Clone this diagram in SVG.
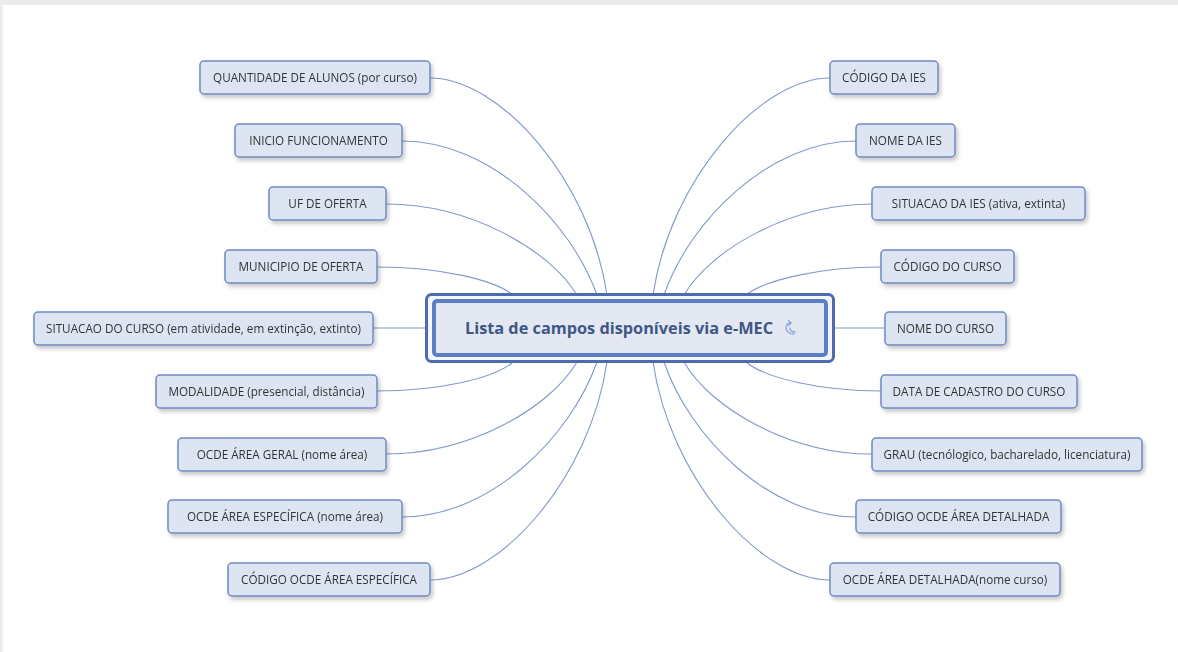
<svg xmlns="http://www.w3.org/2000/svg" width="1178" height="652" viewBox="0 0 1178 652">
  <defs>
    <filter id="sh" x="-10%" y="-30%" width="120%" height="170%">
      <feDropShadow dx="2" dy="3" stdDeviation="2.2" flood-color="#000" flood-opacity="0.22"/>
    </filter>
    <linearGradient id="leftEdge" x1="0" y1="0" x2="1" y2="0">
      <stop offset="0" stop-color="#e6e6e6"/>
      <stop offset="1" stop-color="#ffffff"/>
    </linearGradient>
    <style>
      .node rect { fill: #dde5f3; stroke: #6f89c2; stroke-width: 1.5; }
      .node text { font-family: "Open Sans", "Noto Sans", sans-serif; font-size: 11.7px; fill: #333333; text-anchor: middle; }
      .conn path { fill: none; stroke: #8198cb; stroke-width: 1.1; }
    </style>
  </defs>
  <rect x="0" y="0" width="1178" height="652" fill="#ffffff"/>
  <rect x="0" y="0" width="1178" height="5" fill="#ebebeb"/>
  <rect x="0" y="5" width="4" height="647" fill="url(#leftEdge)"/>

  <g id="connectors" class="conn">
    <path d="M430 78 C500 78 590 180 607 295"/>
    <path d="M402 141 C490 141 570 220 597 295"/>
    <path d="M386 204 C470 204 550 250 577 295"/>
    <path d="M377 267 C440 267 495 280 513 295"/>
    <path d="M373 328 L426 328"/>
    <path d="M377 391 C440 391 495 378 513 362"/>
    <path d="M386 454 C470 454 550 408 577 362"/>
    <path d="M402 517 C490 517 570 438 597 362"/>
    <path d="M430 580 C500 580 590 478 607 362"/>
    <path d="M830 78 C760 78 670 180 653 295"/>
    <path d="M856 141 C770 141 690 220 664 295"/>
    <path d="M872 204 C790 204 710 250 684 295"/>
    <path d="M881 267 C820 267 765 280 746 295"/>
    <path d="M885 328 L834 328"/>
    <path d="M881 391 C820 391 765 378 746 362"/>
    <path d="M872 454 C790 454 710 408 684 362"/>
    <path d="M856 517 C770 517 690 438 664 362"/>
    <path d="M830 580 C760 580 670 478 653 362"/>
  </g>

  <g id="center">
    <rect x="426.5" y="294.5" width="407" height="67" rx="5" fill="#f4f6fb" stroke="#4d6cb0" stroke-width="3"/>
    <rect x="434" y="301" width="392" height="54" rx="3" fill="#e3e8f2" stroke="#5d7ec3" stroke-width="4"/>
    <text x="619" y="334" font-family="'Open Sans', 'Noto Sans', sans-serif" font-size="16.3" font-weight="bold" fill="#3e5786" text-anchor="middle">Lista de campos disponíveis via e-MEC</text>
    <g fill="none" stroke="#8fa9dc" stroke-width="1.4" stroke-linecap="round" stroke-linejoin="round">
      <path d="M794 334 C790 334 786 332 786 328 C786 325 788 323 791 323"/>
      <path d="M788.5 320.5 L791 323 L788.5 325.5"/>
      <path d="M790 328 C790 331 792 332 795 332"/>
    </g>
  </g>

  <g id="n-quantidade" class="node" filter="url(#sh)"><rect x="200" y="61" width="230" height="33" rx="4"/><text x="315" y="82">QUANTIDADE DE ALUNOS (por curso)</text></g>
  <g id="n-inicio" class="node" filter="url(#sh)"><rect x="235" y="124" width="167" height="33" rx="4"/><text x="318.5" y="145">INICIO FUNCIONAMENTO</text></g>
  <g id="n-uf" class="node" filter="url(#sh)"><rect x="269" y="187" width="117" height="33" rx="4"/><text x="327.5" y="208">UF DE OFERTA</text></g>
  <g id="n-municipio" class="node" filter="url(#sh)"><rect x="225" y="250" width="152" height="33" rx="4"/><text x="301" y="271">MUNICIPIO DE OFERTA</text></g>
  <g id="n-situacao-curso" class="node" filter="url(#sh)"><rect x="34" y="312" width="339" height="33" rx="4"/><text x="203.5" y="333">SITUACAO DO CURSO (em atividade, em extinção, extinto)</text></g>
  <g id="n-modalidade" class="node" filter="url(#sh)"><rect x="156" y="375" width="221" height="33" rx="4"/><text x="266.5" y="396">MODALIDADE (presencial, distância)</text></g>
  <g id="n-ocde-geral" class="node" filter="url(#sh)"><rect x="178" y="438" width="208" height="33" rx="4"/><text x="282" y="459">OCDE ÁREA GERAL (nome área)</text></g>
  <g id="n-ocde-especifica" class="node" filter="url(#sh)"><rect x="168" y="500" width="234" height="33" rx="4"/><text x="285" y="521">OCDE ÁREA ESPECÍFICA (nome área)</text></g>
  <g id="n-codigo-ocde-especifica" class="node" filter="url(#sh)"><rect x="228" y="563" width="202" height="33" rx="4"/><text x="329" y="584">CÓDIGO OCDE ÁREA ESPECÍFICA</text></g>

  <g id="n-codigo-ies" class="node" filter="url(#sh)"><rect x="830" y="61" width="108" height="33" rx="4"/><text x="884" y="82">CÓDIGO DA IES</text></g>
  <g id="n-nome-ies" class="node" filter="url(#sh)"><rect x="856" y="124" width="99" height="33" rx="4"/><text x="905.5" y="145">NOME DA IES</text></g>
  <g id="n-situacao-ies" class="node" filter="url(#sh)"><rect x="872" y="187" width="213" height="33" rx="4"/><text x="978.5" y="208">SITUACAO DA IES (ativa, extinta)</text></g>
  <g id="n-codigo-curso" class="node" filter="url(#sh)"><rect x="881" y="250" width="133" height="33" rx="4"/><text x="947.5" y="271">CÓDIGO DO CURSO</text></g>
  <g id="n-nome-curso" class="node" filter="url(#sh)"><rect x="885" y="312" width="121" height="33" rx="4"/><text x="945.5" y="333">NOME DO CURSO</text></g>
  <g id="n-data-cadastro" class="node" filter="url(#sh)"><rect x="881" y="375" width="196" height="33" rx="4"/><text x="979" y="396">DATA DE CADASTRO DO CURSO</text></g>
  <g id="n-grau" class="node" filter="url(#sh)"><rect x="872" y="438" width="270" height="33" rx="4"/><text x="1007" y="459">GRAU (tecnólogico, bacharelado, licenciatura)</text></g>
  <g id="n-codigo-ocde-detalhada" class="node" filter="url(#sh)"><rect x="856" y="500" width="205" height="33" rx="4"/><text x="958.5" y="521">CÓDIGO OCDE ÁREA DETALHADA</text></g>
  <g id="n-ocde-detalhada" class="node" filter="url(#sh)"><rect x="830" y="563" width="230" height="33" rx="4"/><text x="945" y="584">OCDE ÁREA DETALHADA(nome curso)</text></g>
</svg>
